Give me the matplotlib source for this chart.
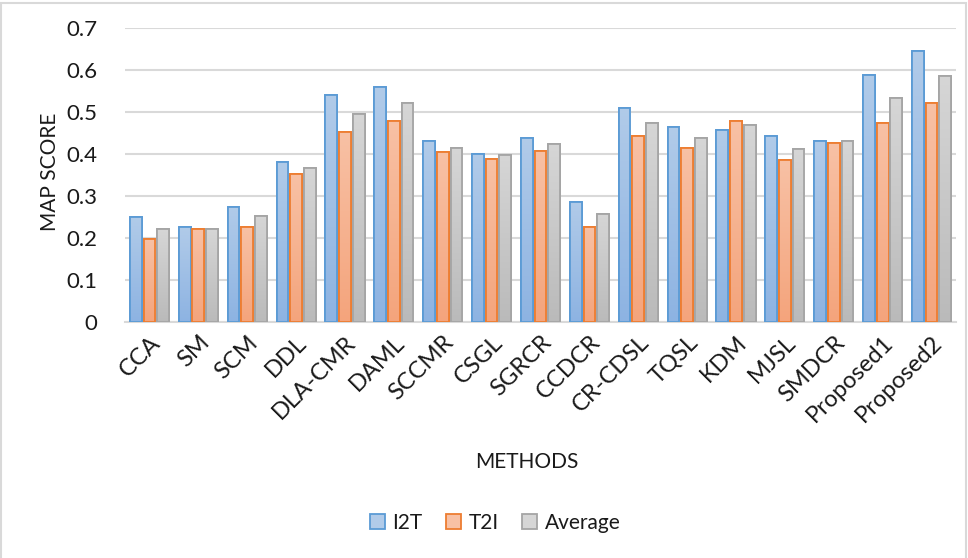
import numpy as np
import matplotlib
matplotlib.use("Agg")
import matplotlib.pyplot as plt
from matplotlib.colors import LinearSegmentedColormap
from matplotlib.patches import Rectangle, Patch

categories = ["CCA", "SM", "SCM", "DDL", "DLA-CMR", "DAML", "SCCMR", "CSGL", "SGRCR",
              "CCDCR", "CR-CDSL", "TQSL", "KDM", "MJSL", "SMDCR", "Proposed1", "Proposed2"]
i2t = [0.249, 0.226, 0.275, 0.381, 0.540, 0.559, 0.430, 0.400, 0.439,
       0.286, 0.510, 0.464, 0.457, 0.442, 0.430, 0.589, 0.646]
t2i = [0.197, 0.222, 0.226, 0.352, 0.452, 0.479, 0.404, 0.388, 0.407,
       0.226, 0.442, 0.415, 0.479, 0.385, 0.426, 0.475, 0.521]
avg = [0.222, 0.222, 0.253, 0.366, 0.495, 0.521, 0.415, 0.397, 0.423,
       0.256, 0.475, 0.438, 0.468, 0.411, 0.430, 0.533, 0.585]
series_names = ["I2T", "T2I", "Average"]
yticks = [0, 0.1, 0.2, 0.3, 0.4, 0.5, 0.6, 0.7]

plt.rcParams['font.family'] = ['Lato', 'DejaVu Sans']
TXT = "#1a1a1a"

fig = plt.figure(figsize=(9.68, 5.58), dpi=100)
ax = fig.add_axes([125/968, 1-322/558, (956-125)/968, (322-28)/558])

styles = [
    dict(top="#b1cbe9", bot="#8db3e2", edge="#5b9bd5"),
    dict(top="#f8c1a5", bot="#f4a47c", edge="#ed7d31"),
    dict(top="#d6d6d6", bot="#bababa", edge="#a5a5a5"),
]
x = np.arange(len(categories))
width = 0.24
offs = [-0.28, 0.0, 0.28]
grad = np.linspace(1, 0, 256).reshape(-1, 1)
for vals, st, off in zip([i2t, t2i, avg], styles, offs):
    cmap = LinearSegmentedColormap.from_list("g", [st["bot"], st["top"]])
    bars = ax.bar(x + off, vals, width, facecolor=st["bot"], edgecolor=st["edge"],
                  linewidth=1.3, zorder=3)
    for b in bars:
        bx, by = b.get_x(), b.get_y()
        bw, bh = b.get_width(), b.get_height()
        im = ax.imshow(grad, cmap=cmap, extent=[bx, bx + bw, by, by + bh],
                       aspect='auto', zorder=3.1, origin='upper', vmin=0, vmax=1)
        im.set_clip_path(b)
        ax.add_patch(Rectangle((bx, by), bw, bh, facecolor='none',
                               edgecolor=st["edge"], linewidth=1.3, zorder=3.2))

ax.set_xlim(-0.5, len(categories) - 0.5)
ax.set_ylim(0, 0.7)
ax.set_yticks(yticks)
ax.set_yticklabels([f"{v:g}" for v in yticks], fontsize=16, color=TXT)
ax.yaxis.grid(True, color="#d9d9d9", linewidth=1.5, zorder=0)
ax.set_axisbelow(True)
for s in ["top", "right", "left"]:
    ax.spines[s].set_visible(False)
ax.spines["bottom"].set_color("#d9d9d9")
ax.spines["bottom"].set_linewidth(1.5)
ax.tick_params(axis='both', length=0)
ax.tick_params(axis='y', pad=20)
ax.set_xticks(x)
ax.set_xticklabels(categories, rotation=45, ha='right', rotation_mode='anchor',
                   fontsize=17, color=TXT)
ax.tick_params(axis='x', pad=7)

fig.text(50/968, 1-172/558, "MAP SCORE", rotation=90, ha='center', va='center',
         fontsize=15, color=TXT)
fig.text(527/968, 1-462/558, "METHODS", ha='center', va='center',
         fontsize=15, color=TXT)

handles = [Patch(facecolor=st["top"], edgecolor=st["edge"], linewidth=1.3) for st in styles]
fig.legend(handles, series_names, loc='center', bbox_to_anchor=(495/968, 1-523/558),
           ncol=3, frameon=False, fontsize=15, handlelength=0.75, handleheight=0.75,
           handletextpad=0.35, columnspacing=1.1, labelcolor=TXT)

fig.add_artist(Rectangle((0.001, -0.01), 0.997, 1.005, transform=fig.transFigure,
                         facecolor='none', edgecolor="#d9d9d9", linewidth=1.5))

fig.savefig("out.png", dpi=100)
